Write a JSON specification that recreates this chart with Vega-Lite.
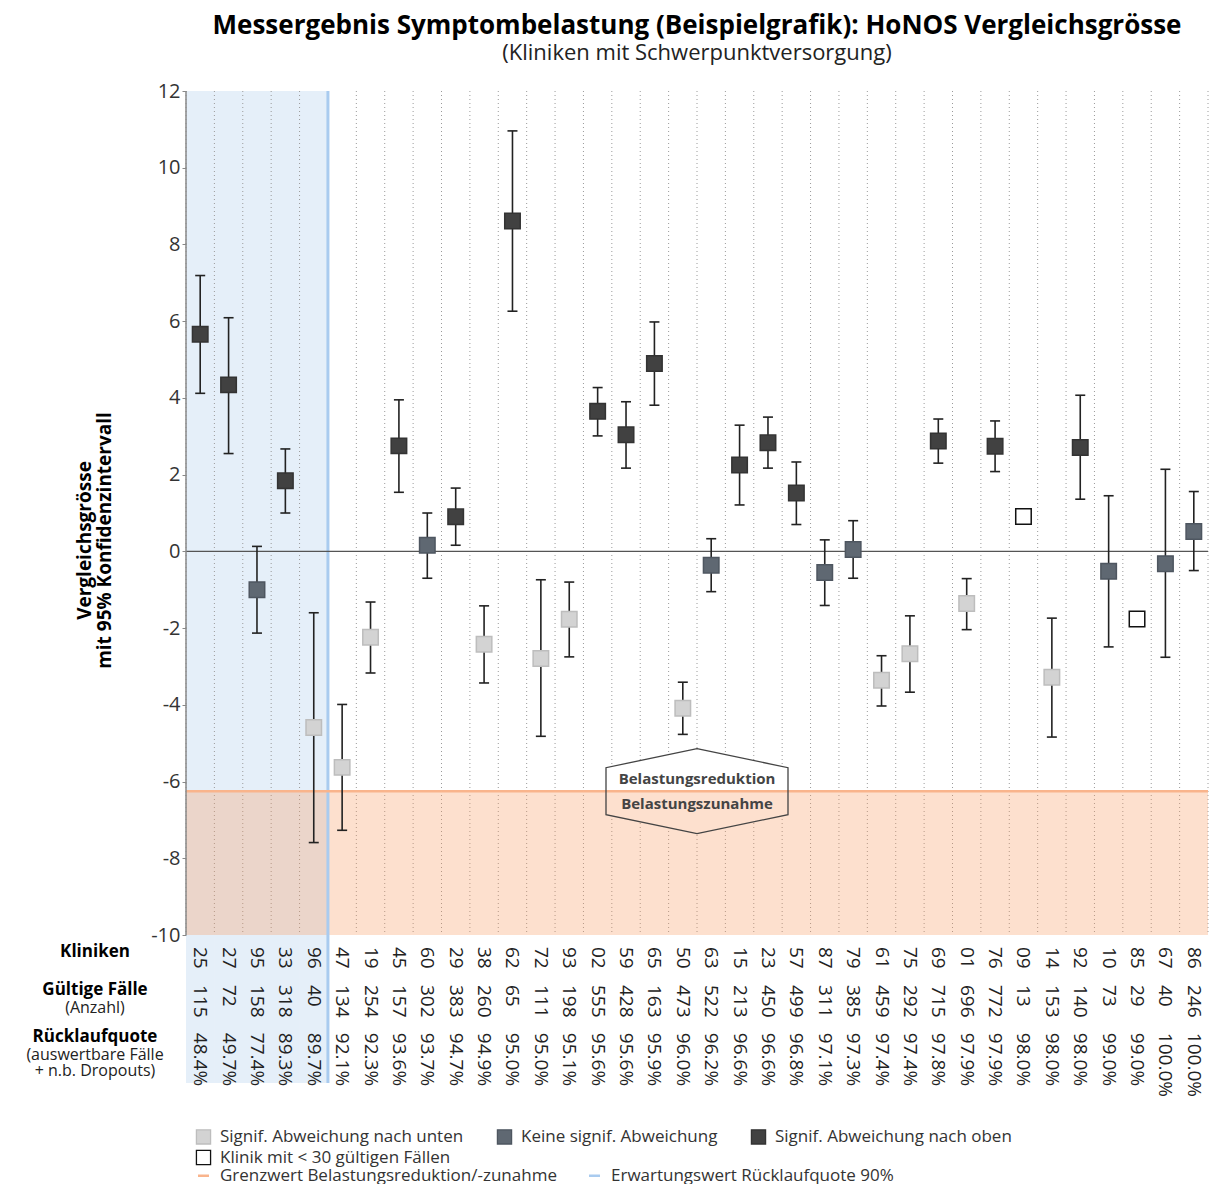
{
  "$schema": "https://vega.github.io/schema/vega-lite/v6.json",
  "padding": {"left": 26, "top": 13, "right": 4, "bottom": 0},
  "background": "white",
  "config": {
    "font": "Open Sans",
    "view": {"stroke": null}
  },
  "data": {"values": [
      {"clinic": "25", "n": 115, "rq": 0.484, "v": 5.66, "lo": 4.12, "hi": 7.19, "cat": "Signif. Abweichung nach oben"},
      {"clinic": "27", "n": 72, "rq": 0.497, "v": 4.34, "lo": 2.55, "hi": 6.09, "cat": "Signif. Abweichung nach oben"},
      {"clinic": "95", "n": 158, "rq": 0.774, "v": -1.0, "lo": -2.13, "hi": 0.13, "cat": "Keine signif. Abweichung"},
      {"clinic": "33", "n": 318, "rq": 0.893, "v": 1.84, "lo": 1.0, "hi": 2.67, "cat": "Signif. Abweichung nach oben"},
      {"clinic": "96", "n": 40, "rq": 0.897, "v": -4.59, "lo": -7.59, "hi": -1.6, "cat": "Signif. Abweichung nach unten"},
      {"clinic": "47", "n": 134, "rq": 0.921, "v": -5.63, "lo": -7.27, "hi": -3.99, "cat": "Signif. Abweichung nach unten"},
      {"clinic": "19", "n": 254, "rq": 0.923, "v": -2.24, "lo": -3.17, "hi": -1.32, "cat": "Signif. Abweichung nach unten"},
      {"clinic": "45", "n": 157, "rq": 0.936, "v": 2.75, "lo": 1.54, "hi": 3.95, "cat": "Signif. Abweichung nach oben"},
      {"clinic": "60", "n": 302, "rq": 0.937, "v": 0.16, "lo": -0.7, "hi": 1.0, "cat": "Keine signif. Abweichung"},
      {"clinic": "29", "n": 383, "rq": 0.947, "v": 0.9, "lo": 0.16, "hi": 1.65, "cat": "Signif. Abweichung nach oben"},
      {"clinic": "38", "n": 260, "rq": 0.949, "v": -2.42, "lo": -3.43, "hi": -1.42, "cat": "Signif. Abweichung nach unten"},
      {"clinic": "62", "n": 65, "rq": 0.95, "v": 8.61, "lo": 6.26, "hi": 10.96, "cat": "Signif. Abweichung nach oben"},
      {"clinic": "72", "n": 111, "rq": 0.95, "v": -2.79, "lo": -4.82, "hi": -0.74, "cat": "Signif. Abweichung nach unten"},
      {"clinic": "93", "n": 198, "rq": 0.951, "v": -1.77, "lo": -2.75, "hi": -0.8, "cat": "Signif. Abweichung nach unten"},
      {"clinic": "02", "n": 555, "rq": 0.956, "v": 3.65, "lo": 3.01, "hi": 4.27, "cat": "Signif. Abweichung nach oben"},
      {"clinic": "59", "n": 428, "rq": 0.956, "v": 3.04, "lo": 2.17, "hi": 3.9, "cat": "Signif. Abweichung nach oben"},
      {"clinic": "65", "n": 163, "rq": 0.959, "v": 4.9, "lo": 3.81, "hi": 5.98, "cat": "Signif. Abweichung nach oben"},
      {"clinic": "50", "n": 473, "rq": 0.96, "v": -4.09, "lo": -4.77, "hi": -3.41, "cat": "Signif. Abweichung nach unten"},
      {"clinic": "63", "n": 522, "rq": 0.962, "v": -0.36, "lo": -1.05, "hi": 0.33, "cat": "Keine signif. Abweichung"},
      {"clinic": "15", "n": 213, "rq": 0.966, "v": 2.25, "lo": 1.21, "hi": 3.29, "cat": "Signif. Abweichung nach oben"},
      {"clinic": "23", "n": 450, "rq": 0.966, "v": 2.83, "lo": 2.17, "hi": 3.5, "cat": "Signif. Abweichung nach oben"},
      {"clinic": "57", "n": 499, "rq": 0.968, "v": 1.52, "lo": 0.7, "hi": 2.33, "cat": "Signif. Abweichung nach oben"},
      {"clinic": "87", "n": 311, "rq": 0.971, "v": -0.55, "lo": -1.41, "hi": 0.3, "cat": "Keine signif. Abweichung"},
      {"clinic": "79", "n": 385, "rq": 0.973, "v": 0.05, "lo": -0.7, "hi": 0.8, "cat": "Keine signif. Abweichung"},
      {"clinic": "61", "n": 459, "rq": 0.974, "v": -3.36, "lo": -4.03, "hi": -2.72, "cat": "Signif. Abweichung nach unten"},
      {"clinic": "75", "n": 292, "rq": 0.974, "v": -2.67, "lo": -3.67, "hi": -1.68, "cat": "Signif. Abweichung nach unten"},
      {"clinic": "69", "n": 715, "rq": 0.978, "v": 2.88, "lo": 2.3, "hi": 3.45, "cat": "Signif. Abweichung nach oben"},
      {"clinic": "01", "n": 696, "rq": 0.979, "v": -1.36, "lo": -2.04, "hi": -0.71, "cat": "Signif. Abweichung nach unten"},
      {"clinic": "76", "n": 772, "rq": 0.979, "v": 2.74, "lo": 2.08, "hi": 3.4, "cat": "Signif. Abweichung nach oben"},
      {"clinic": "09", "n": 13, "rq": 0.98, "v": 0.91, "lo": null, "hi": null, "cat": "Klinik mit < 30 gültigen Fällen"},
      {"clinic": "14", "n": 153, "rq": 0.98, "v": -3.28, "lo": -4.84, "hi": -1.74, "cat": "Signif. Abweichung nach unten"},
      {"clinic": "92", "n": 140, "rq": 0.98, "v": 2.71, "lo": 1.36, "hi": 4.07, "cat": "Signif. Abweichung nach oben"},
      {"clinic": "10", "n": 73, "rq": 0.99, "v": -0.52, "lo": -2.49, "hi": 1.45, "cat": "Keine signif. Abweichung"},
      {"clinic": "85", "n": 29, "rq": 0.99, "v": -1.76, "lo": null, "hi": null, "cat": "Klinik mit < 30 gültigen Fällen"},
      {"clinic": "67", "n": 40, "rq": 1.0, "v": -0.32, "lo": -2.76, "hi": 2.14, "cat": "Keine signif. Abweichung"},
      {"clinic": "86", "n": 246, "rq": 1.0, "v": 0.52, "lo": -0.5, "hi": 1.56, "cat": "Keine signif. Abweichung"}
  ]},
  "width": 1022,
  "height": 992,
  "title": {
    "text": "Messergebnis Symptombelastung (Beispielgrafik): HoNOS Vergleichsgrösse",
    "subtitle": "(Kliniken mit Schwerpunktversorgung)",
    "fontSize": 26,
    "fontWeight": "bold",
    "color": "#000000",
    "subtitleFontSize": 22,
    "subtitleColor": "#222222",
    "subtitlePadding": 4,
    "anchor": "middle",
    "frame": "group",
    "offset": 17
  },
  "layer": [
    {
      "mark": {"type": "rect", "fill": "#64a0dc"},
      "encoding": {
        "x": {"field": "clinic", "type": "nominal", "sort": null, "scale": {"paddingInner": 0, "paddingOuter": 0}, "axis": null},
        "fillOpacity": {"condition": {"test": "datum.rq < 0.9", "value": 0.17}, "value": 0}
      }
    },
    {
      "mark": {"type": "rule", "color": "#9a9a9a", "strokeWidth": 1, "strokeDash": [1, 3]},
      "encoding": {
        "x": {"field": "clinic", "type": "nominal", "sort": null, "bandPosition": 0},
        "y": {"datum": 12, "type": "quantitative"},
        "y2": {"datum": -10}
      }
    },
    {
      "transform": [{"filter": "datum.clinic == '86'"}],
      "mark": {"type": "rule", "color": "#9a9a9a", "strokeWidth": 1, "strokeDash": [1, 3]},
      "encoding": {
        "x": {"field": "clinic", "type": "nominal", "sort": null, "bandPosition": 1},
        "y": {"datum": 12, "type": "quantitative"},
        "y2": {"datum": -10}
      }
    },
    {
      "transform": [{"filter": "datum.clinic == '50'"}],
      "mark": {"type": "point", "shape": "M0,-0.467L1,-0.258L1,0.258L0,0.467L-1,0.258L-1,-0.258Z", "size": 33124, "filled": true, "fill": "white", "strokeWidth": 0, "opacity": 1},
      "encoding": {
        "x": {"field": "clinic", "type": "nominal", "sort": null, "bandPosition": 1},
        "y": {"datum": -6.25, "type": "quantitative"}
      }
    },
    {
      "transform": [{"filter": "datum.clinic == '50'"}],
      "mark": {"type": "rect", "fill": "#f8985c", "opacity": 0.3},
      "encoding": {
        "y": {"datum": -6.25, "type": "quantitative"},
        "y2": {"datum": -10}
      }
    },
    {
      "transform": [{"filter": "datum.clinic == '96'"}],
      "mark": {"type": "rule", "strokeWidth": 3},
      "encoding": {
        "x": {"field": "clinic", "type": "nominal", "sort": null, "bandPosition": 1},
        "color": {
          "datum": "Erwartungswert Rücklaufquote 90%",
          "type": "nominal",
          "scale": {"domain": ["Grenzwert Belastungsreduktion/-zunahme", "Erwartungswert Rücklaufquote 90%"], "range": ["#f9b48c", "#a9cbef"]},
          "legend": {"title": null, "orient": "none", "legendX": 9, "legendY": 1076, "direction": "horizontal", "symbolType": "stroke", "symbolStrokeWidth": 2.5, "symbolSize": 120, "labelFontSize": 17, "labelColor": "#333333", "labelLimit": 0, "labelOffset": 8, "columnPadding": 27}
        }
      }
    },
    {
      "transform": [{"filter": "datum.clinic == '50'"}],
      "mark": {"type": "rule", "strokeWidth": 2.5},
      "encoding": {
        "y": {"datum": -6.25, "type": "quantitative"},
        "color": {"datum": "Grenzwert Belastungsreduktion/-zunahme", "type": "nominal"}
      }
    },
    {
      "transform": [{"filter": "datum.clinic == '50'"}],
      "mark": {"type": "rule", "color": "#555555", "strokeWidth": 1.2},
      "encoding": {"y": {"datum": 0, "type": "quantitative"}}
    },
    {
      "transform": [{"filter": "datum.clinic == '25'"}],
      "mark": {"type": "rule", "color": "#888888", "strokeWidth": 1.5},
      "encoding": {
        "x": {"field": "clinic", "type": "nominal", "sort": null, "bandPosition": 0},
        "y": {"datum": 12, "type": "quantitative"},
        "y2": {"datum": -10}
      }
    },
    {
      "transform": [{"filter": "datum.clinic == '50'"}],
      "mark": {"type": "point", "shape": "M0,-0.467L1,-0.258L1,0.258L0,0.467L-1,0.258L-1,-0.258Z", "size": 33124, "filled": false, "stroke": "#444444", "strokeWidth": 1.3, "opacity": 1},
      "encoding": {
        "x": {"field": "clinic", "type": "nominal", "sort": null, "bandPosition": 1},
        "y": {"datum": -6.25, "type": "quantitative"}
      }
    },
    {
      "transform": [{"filter": "datum.clinic == '50'"}],
      "mark": {"type": "text", "text": "Belastungsreduktion", "fontSize": 15, "fontWeight": "bold", "color": "#444444", "dy": -12},
      "encoding": {
        "x": {"field": "clinic", "type": "nominal", "sort": null, "bandPosition": 1},
        "y": {"datum": -6.25, "type": "quantitative"}
      }
    },
    {
      "transform": [{"filter": "datum.clinic == '50'"}],
      "mark": {"type": "text", "text": "Belastungszunahme", "fontSize": 15, "fontWeight": "bold", "color": "#444444", "dy": 13},
      "encoding": {
        "x": {"field": "clinic", "type": "nominal", "sort": null, "bandPosition": 1},
        "y": {"datum": -6.25, "type": "quantitative"}
      }
    },
    {
      "mark": {"type": "rule", "color": "#222222", "strokeWidth": 1.6},
      "encoding": {
        "x": {"field": "clinic", "type": "nominal", "sort": null},
        "y": {"field": "lo", "type": "quantitative"},
        "y2": {"field": "hi"}
      }
    },
    {
      "mark": {"type": "tick", "color": "#222222", "thickness": 1.6, "size": 10, "opacity": 1},
      "encoding": {
        "x": {"field": "clinic", "type": "nominal", "sort": null},
        "y": {"field": "lo", "type": "quantitative"}
      }
    },
    {
      "mark": {"type": "tick", "color": "#222222", "thickness": 1.6, "size": 10, "opacity": 1},
      "encoding": {
        "x": {"field": "clinic", "type": "nominal", "sort": null},
        "y": {"field": "hi", "type": "quantitative"}
      }
    },
    {
      "mark": {"type": "point", "shape": "square", "filled": true, "size": 240, "strokeWidth": 1.5, "opacity": 1},
      "encoding": {
        "x": {"field": "clinic", "type": "nominal", "sort": null},
        "y": {
          "field": "v", "type": "quantitative",
          "scale": {"domain": [-13.857, 12], "nice": false, "zero": false},
          "axis": {
            "title": ["Vergleichsgrösse", "mit 95% Konfidenzintervall"],
            "titleFontSize": 19, "titleFontWeight": "bold", "titleColor": "#000000", "titleLineHeight": 20, "titlePadding": 36, "titleY": 449,
            "values": [-10, -8, -6, -4, -2, 0, 2, 4, 6, 8, 10, 12],
            "labelExpr": "datum.value + ''",
            "labelFontSize": 20, "labelColor": "#333333", "labelPadding": 2,
            "tickSize": 4, "tickColor": "#888888", "domain": false, "grid": false
          }
        },
        "fill": {
          "field": "cat", "type": "nominal",
          "scale": {"domain": ["Signif. Abweichung nach unten", "Keine signif. Abweichung", "Signif. Abweichung nach oben", "Klinik mit < 30 gültigen Fällen"], "range": ["#d3d3d3", "#5f6872", "#414141", "#ffffff"]},
          "legend": {"title": null, "orient": "none", "legendX": 9, "legendY": 1037, "direction": "horizontal", "columns": 3, "values": ["Signif. Abweichung nach unten", "Keine signif. Abweichung", "Signif. Abweichung nach oben", "Klinik mit < 30 gültigen Fällen"], "symbolType": "square", "symbolSize": 200, "symbolStrokeWidth": 1.3, "labelFontSize": 17, "labelColor": "#333333", "labelLimit": 0, "labelOffset": 8, "columnPadding": 30, "rowPadding": 0}
        },
        "stroke": {
          "field": "cat", "type": "nominal",
          "scale": {"domain": ["Signif. Abweichung nach unten", "Keine signif. Abweichung", "Signif. Abweichung nach oben", "Klinik mit < 30 gültigen Fällen"], "range": ["#bdbdbd", "#4e5660", "#333333", "#111111"]},
          "legend": null
        }
      }
    },
    {
      "mark": {"type": "text", "angle": 90, "align": "left", "baseline": "middle", "fontSize": 19, "color": "#222222"},
      "encoding": {
        "x": {"field": "clinic", "type": "nominal", "sort": null},
        "y": {"datum": -10.31, "type": "quantitative"},
        "text": {"field": "clinic", "type": "nominal"}
      }
    },
    {
      "mark": {"type": "text", "angle": 90, "align": "left", "baseline": "middle", "fontSize": 19, "color": "#222222"},
      "encoding": {
        "x": {"field": "clinic", "type": "nominal", "sort": null},
        "y": {"datum": -11.3, "type": "quantitative"},
        "text": {"field": "n", "type": "quantitative"}
      }
    },
    {
      "mark": {"type": "text", "angle": 90, "align": "left", "baseline": "middle", "fontSize": 19, "color": "#222222"},
      "encoding": {
        "x": {"field": "clinic", "type": "nominal", "sort": null},
        "y": {"datum": -12.55, "type": "quantitative"},
        "text": {"field": "rq", "type": "quantitative", "format": ".1%"}
      }
    },
    {
      "transform": [{"filter": "datum.clinic == '25'"}],
      "mark": {"type": "text", "text": "Kliniken", "align": "center", "baseline": "middle", "dx": -91, "fontSize": 17, "fontWeight": "bold", "color": "#000000"},
      "encoding": {
        "x": {"field": "clinic", "type": "nominal", "sort": null, "bandPosition": 0},
        "y": {"datum": -10.44, "type": "quantitative"}
      }
    },
    {
      "transform": [{"filter": "datum.clinic == '25'"}],
      "mark": {"type": "text", "text": "Gültige Fälle", "align": "center", "baseline": "middle", "dx": -91, "fontSize": 17, "fontWeight": "bold", "color": "#000000"},
      "encoding": {
        "x": {"field": "clinic", "type": "nominal", "sort": null, "bandPosition": 0},
        "y": {"datum": -11.44, "type": "quantitative"}
      }
    },
    {
      "transform": [{"filter": "datum.clinic == '25'"}],
      "mark": {"type": "text", "text": "(Anzahl)", "align": "center", "baseline": "middle", "dx": -91, "fontSize": 16, "color": "#222222"},
      "encoding": {
        "x": {"field": "clinic", "type": "nominal", "sort": null, "bandPosition": 0},
        "y": {"datum": -11.9, "type": "quantitative"}
      }
    },
    {
      "transform": [{"filter": "datum.clinic == '25'"}],
      "mark": {"type": "text", "text": "Rücklaufquote", "align": "center", "baseline": "middle", "dx": -91, "fontSize": 17, "fontWeight": "bold", "color": "#000000"},
      "encoding": {
        "x": {"field": "clinic", "type": "nominal", "sort": null, "bandPosition": 0},
        "y": {"datum": -12.66, "type": "quantitative"}
      }
    },
    {
      "transform": [{"filter": "datum.clinic == '25'"}],
      "mark": {"type": "text", "text": ["(auswertbare Fälle", "+ n.b. Dropouts)"], "lineHeight": 16, "align": "center", "baseline": "top", "dx": -91, "fontSize": 16, "color": "#222222"},
      "encoding": {
        "x": {"field": "clinic", "type": "nominal", "sort": null, "bandPosition": 0},
        "y": {"datum": -12.92, "type": "quantitative"}
      }
    }
  ]
}
